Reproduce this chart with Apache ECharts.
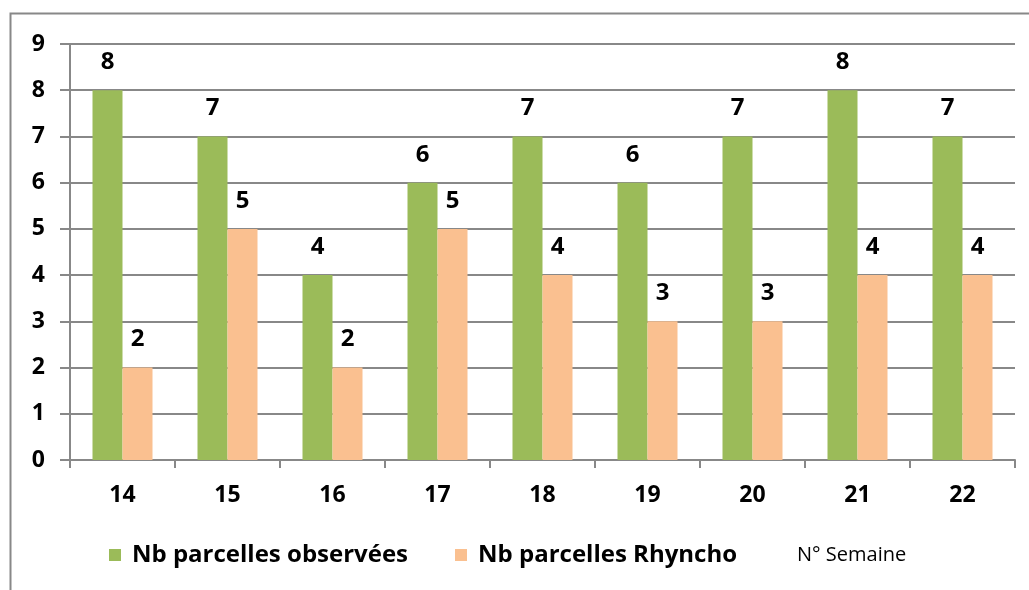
<!DOCTYPE html>
<html><head><meta charset="utf-8">
<script src="https://cdn.jsdelivr.net/npm/echarts@6/dist/echarts.min.js"></script>
<style>html,body{margin:0;padding:0;background:#fff}#c{width:1029px;height:590px}</style>
</head><body><div id="c"></div>
<script>
const categories = ['14','15','16','17','18','19','20','21','22'];
const observees = [8,7,4,6,7,6,7,8,7];
const rhyncho = [2,5,2,5,4,3,3,4,4];
const seriesNames = ['Nb parcelles observées','Nb parcelles Rhyncho'];
const FONT = '"Open Sans", "Noto Sans", sans-serif';
const chart = echarts.init(document.getElementById('c'));
const label = {show:true, position:'top', color:'#000', fontFamily:FONT, fontWeight:'bold', fontSize:24, distance:16};
chart.setOption({
  animation:false,
  grid:{left:70, right:14, top:44, bottom:130, containLabel:false},
  legend:{top:538, left:104, itemWidth:12, itemHeight:12, itemGap:47, icon:'rect',
    textStyle:{fontFamily:FONT, fontWeight:'bold', fontSize:24, color:'#000', padding:[0,0,0,6]}, data:seriesNames},
  xAxis:{type:'category', data:categories,
    axisLine:{lineStyle:{color:'#888', width:2}},
    axisTick:{show:true, length:8, lineStyle:{color:'#888', width:2}},
    axisLabel:{fontFamily:FONT, fontWeight:'bold', fontSize:23, color:'#000', margin:24}},
  yAxis:{type:'value', min:0, max:9, interval:1,
    axisLine:{show:true, lineStyle:{color:'#888', width:2}},
    axisTick:{show:true, length:10, inside:false, lineStyle:{color:'#888', width:2}},
    splitLine:{lineStyle:{color:'#888', width:2}},
    axisLabel:{fontFamily:FONT, fontWeight:'bold', fontSize:23, color:'#000', margin:25}},
  graphic:[
    {type:'rect', shape:{x:10.5, y:13.5, width:1040, height:600}, style:{fill:null, stroke:'#888', lineWidth:2}, silent:true},
    {type:'text', left:797, top:545, style:{text:'N° Semaine', fontFamily:FONT, fontSize:20, fill:'#000'}}
  ],
  series:[
    {name:seriesNames[0], type:'bar', data:observees, barWidth:30, barGap:'0%', itemStyle:{color:'#9BBB59'}, label:label},
    {name:seriesNames[1], type:'bar', data:rhyncho, barWidth:30, barGap:'0%', itemStyle:{color:'#FAC090'}, label:label}
  ]
});
</script></body></html>
